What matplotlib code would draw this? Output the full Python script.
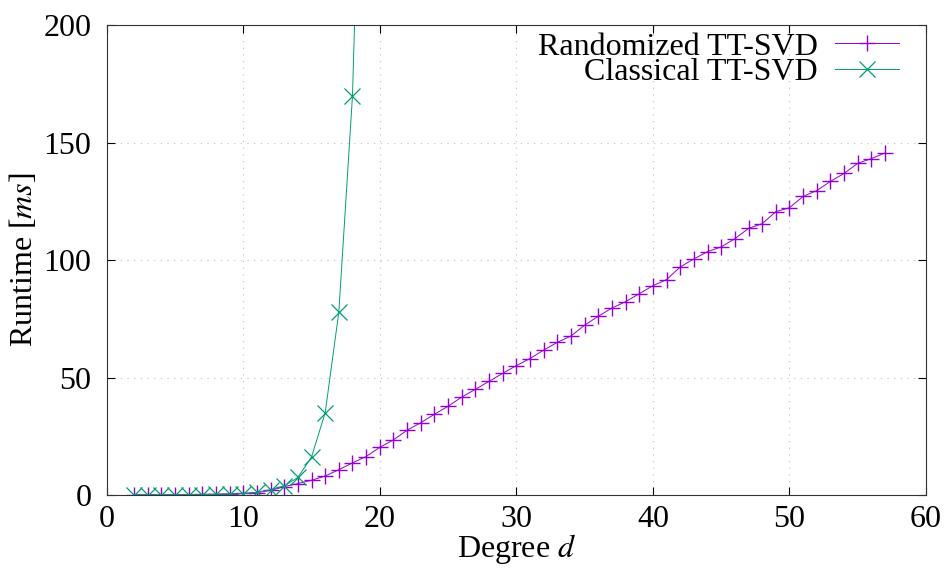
import matplotlib
matplotlib.use("Agg")
import matplotlib.pyplot as plt
import numpy as np

# degree d and runtime in ms
d_rand = np.arange(2, 58)
t_rand = [0.1, 0.1, 0.1, 0.15, 0.2, 0.25, 0.35, 0.5, 0.7, 1.0,
          2.0, 3.6, 4.9, 6.3, 8.1, 10.8, 13.7, 16.4, 20.3, 23.5,
          27.6, 30.8, 34.4, 37.8, 41.7, 45.0, 48.4, 51.8, 55.1, 58.1,
          61.7, 65.0, 67.7, 72.3, 76.1, 79.6, 82.3, 85.7, 89.1, 91.7,
          97.1, 100.5, 103.6, 105.6, 109.1, 113.5, 115.5, 120.6, 122.3, 127.1,
          129.6, 133.5, 136.9, 141.2, 143.2, 145.6]

d_class = np.arange(2, 20)
t_class = [0.1, 0.1, 0.1, 0.1, 0.15, 0.2, 0.3, 0.4, 0.6, 1.2,
           2.3, 3.9, 7.5, 16.2, 35.0, 77.9, 170.0, 370.0]

xticks = [0, 10, 20, 30, 40, 50, 60]
yticks = [0, 50, 100, 150, 200]

plt.rcParams['font.family'] = ['Liberation Serif', 'DejaVu Serif']
plt.rcParams['mathtext.fontset'] = 'stix'
plt.rcParams['font.size'] = 23

fig = plt.figure(figsize=(9.44, 5.71), dpi=100)
ax = fig.add_axes([0.113, 0.133, 0.868, 0.823])

ax.plot(d_rand, t_rand, color='#9400d3', lw=0.7, marker='+', ms=12, mew=1.0,
        label='Randomized TT-SVD')
ax.plot(d_class, t_class, color='#009e73', lw=0.7, marker='x', ms=12, mew=0.9,
        label='Classical TT-SVD')

ax.set_xlim(0, 60)
ax.set_ylim(0, 200)
ax.set_xticks(xticks)
ax.set_yticks(yticks)
ax.tick_params(direction='in', top=True, right=True, length=6, width=0.8)
ax.tick_params(axis='y', pad=11)
ax.tick_params(axis='x', pad=7)
ax.grid(True, color='#c0c0c0', lw=0.8, linestyle=(0, (1, 5)))
for s in ax.spines.values():
    s.set_linewidth(0.8)
    s.set_color('#333333')

ax.set_xlabel('Degree $d$', labelpad=-1)
ax.set_ylabel('Runtime [$ms$]', labelpad=3)

ax.legend(loc='upper right', bbox_to_anchor=(0.967, 0.985), markerfirst=False,
          frameon=False, fontsize=23, handlelength=2.0, handletextpad=0.55,
          labelspacing=-0.12, borderpad=0, borderaxespad=0)

plt.savefig('out.png', dpi=100)
